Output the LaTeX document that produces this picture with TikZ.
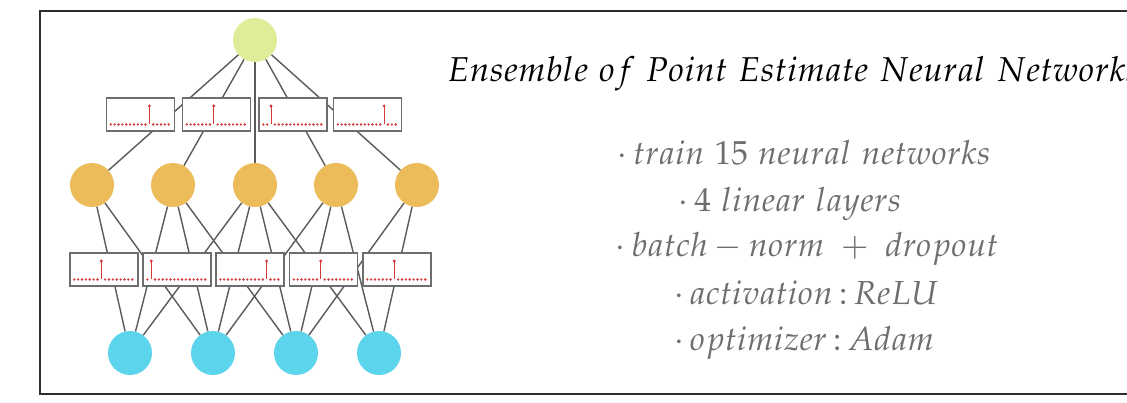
\documentclass[tikz,border=0pt]{standalone}
\usepackage{mathpazo}
\usetikzlibrary{calc}
\definecolor{gnode}{RGB}{221,237,152}
\definecolor{onode}{RGB}{236,187,90}
\definecolor{cnode}{RGB}{92,212,236}
\definecolor{edgec}{RGB}{90,90,90}
\definecolor{boxc}{RGB}{110,110,110}
\definecolor{spikec}{RGB}{215,55,55}
\definecolor{txtgray}{RGB}{110,110,110}
\definecolor{framec}{RGB}{45,45,45}
\tikzset{
  neuron/.style={circle, minimum size=44pt, inner sep=0pt, draw=none},
  conn/.style={draw=edgec, line width=1.4pt},
  wbox/.style={draw=boxc, fill=white, line width=1.4pt, minimum width=68pt, minimum height=33pt, inner sep=0pt},
  titletext/.style={anchor=base west, inner sep=0pt, text=black, font=\fontsize{34.5}{41}\selectfont},
  bullettext/.style={anchor=base, inner sep=0pt, text=txtgray, font=\fontsize{33.3}{40}\selectfont},
}
\newcommand{\weightbox}[4]{%
  \node[wbox] (#1) at (#2,#3) {};
  \foreach \k in {0,...,15}{%
    \ifnum\k=#4\relax\else
      \fill[spikec] ($(#1.west)+(5+3.86*\k,10)$) circle (1.3pt);
    \fi
  }
  \draw[spikec, line width=1pt] ($(#1.west)+(5+3.86*#4,10)$) -- ++(0,-18.5);
  \fill[spikec] ($(#1.west)+(5+3.86*#4,-8.5)$) circle (1.6pt);
}
\begin{document}
\begin{tikzpicture}[x=1pt,y=-1pt]
\useasboundingbox (0,0) rectangle (1127,403);
\fill[white] (0,0) rectangle (1127,403);
\draw[framec, line width=2.2pt] (1140,11) -- (40,11) -- (40,394) -- (1140,394);

% neurons
\node[neuron, fill=gnode] (G) at (255,40) {};
\foreach \n/\x in {1/92,2/173,3/255,4/336,5/417}
  \node[neuron, fill=onode] (O\n) at (\x,185) {};
\foreach \n/\x in {1/130,2/213,3/296,4/379}
  \node[neuron, fill=cnode] (C\n) at (\x,353) {};

% connections
\foreach \n in {1,...,5} \draw[conn] (G) -- (O\n);
\foreach \a/\b in {1/1,1/2,2/1,2/2,2/3,3/1,3/2,3/3,3/4,4/2,4/3,4/4,5/3,5/4}
  \draw[conn] (O\a) -- (C\b);

% weight boxes
\weightbox{B1}{140.5}{114.5}{10}
\weightbox{B2}{216.5}{114.5}{7}
\weightbox{B3}{293}{114.5}{2}
\weightbox{B4}{367.5}{114.5}{12}
\weightbox{D1}{104}{269.5}{7}
\weightbox{D2}{177}{269.5}{1}
\weightbox{D3}{250}{269.5}{12}
\weightbox{D4}{323.5}{269.5}{7}
\weightbox{D5}{397}{269.5}{7}

% texts
\node[titletext] (title) at (447,82) {$Ensemble\ of\ Point\ Estimate\ Neural\ Networks$};
\node[bullettext] (l1) at (804,165) {$\cdot\, train\ 15\ neural\ networks$};
\node[bullettext] (l2) at (790,212) {$\cdot\, 4\ linear\ layers$};
\node[bullettext] (l3) at (807,257) {$\cdot\, batch - norm\ +\ dropout$};
\node[bullettext] (l4) at (806,305) {$\cdot\, activation\,{:}\,ReLU$};
\node[bullettext] (l5) at (804,350) {$\cdot\, optimizer\,{:}\,Adam$};
\end{tikzpicture}
\end{document}
